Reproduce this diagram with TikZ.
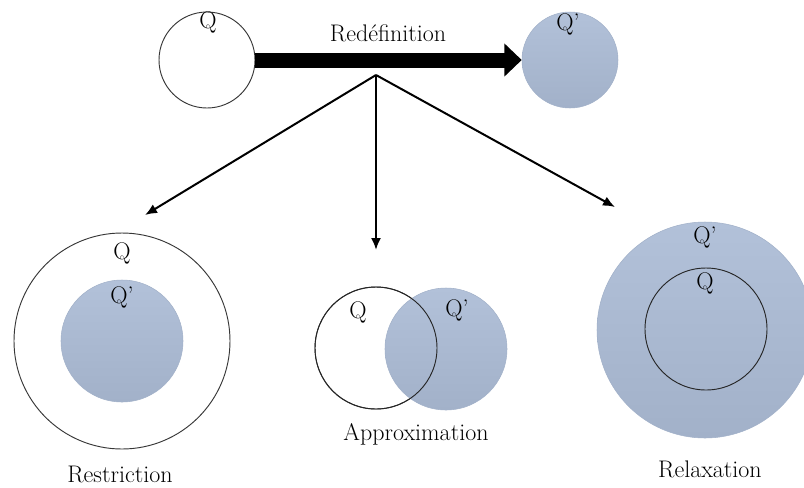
\documentclass[tikz,border=0pt]{standalone}
\usepackage{tikz}
\usetikzlibrary{arrows.meta,calc}
\definecolor{q_blue}{RGB}{178,193,217}
\definecolor{q_blue2}{RGB}{162,177,201}
\definecolor{q_edge}{RGB}{55,55,55}
\tikzstyle{wn}=[circle,fill=white,draw=q_edge,line width=0.7pt,inner sep=0pt]
\tikzstyle{bn}=[circle,top color=q_blue,bottom color=q_blue2,draw=q_blue2,
  line width=0.4pt,inner sep=0pt]
\tikzstyle{rim}=[circle,draw=black!85,line width=0.7pt,inner sep=0pt]
\tikzstyle{lbl}=[inner sep=0pt,font=\fontsize{18}{20}\selectfont]
\tikzstyle{fat}=[line width=11.25pt,-{Triangle[length=13pt,width=24pt]}]
\tikzstyle{br}=[line width=1.5pt,-{Latex[length=9pt,width=7.5pt]}]

\begin{document}
\begin{tikzpicture}[x=0.75pt, y=-0.75pt]
    \useasboundingbox (0,0) rectangle (804,487);
    \node [style=wn, minimum size=72pt] (1) at (207, 60) {};
    \node [style=bn, minimum size=72pt] (2) at (570, 60) {};
    \node [style=lbl] (q1) at (208, 22) {Q};
    \node [style=lbl] (q2) at (568, 24) {Q'};
    \node [style=lbl] (r) at (388, 33) {Redéfinition};
    \draw [style=fat] (1.east) to (2.west);
    \coordinate (0) at (376, 75);
    \coordinate (a) at (145, 215);
    \coordinate (b) at (376, 250);
    \coordinate (c) at (615, 207);
    \draw [style=br] (0) to (a);
    \draw [style=br] (0) to (b);
    \draw [style=br] (0) to (c);
    % restriction
    \node [style=wn, minimum size=162pt] (3) at (122, 341) {};
    \node [style=bn, minimum size=91.5pt] (4) at (122, 341) {};
    \node [style=lbl] (q3) at (122, 253) {Q};
    \node [style=lbl] (q4) at (122, 297) {Q'};
    \node [style=lbl] (t1) at (120, 474) {Restriction};
    % approximation
    \node [style=wn, minimum size=91.5pt] (5) at (376, 348) {};
    \node [style=bn, minimum size=91.5pt] (6) at (446, 349) {};
    \node [style=rim, minimum size=91.5pt] (5b) at (5) {};
    \node [style=lbl] (q5) at (358, 312) {Q};
    \node [style=lbl] (q6) at (457, 310) {Q'};
    \node [style=lbl] (t2) at (416, 434) {Approximation};
    % relaxation
    \node [style=bn, minimum size=162pt] (7) at (705, 330) {};
    \node [style=rim, minimum size=91.5pt] (8) at (706, 329) {};
    \node [style=lbl] (q7) at (705, 237) {Q'};
    \node [style=lbl] (q8) at (705, 283) {Q};
    \node [style=lbl] (t3) at (710, 469) {Relaxation};
\end{tikzpicture}
\end{document}
